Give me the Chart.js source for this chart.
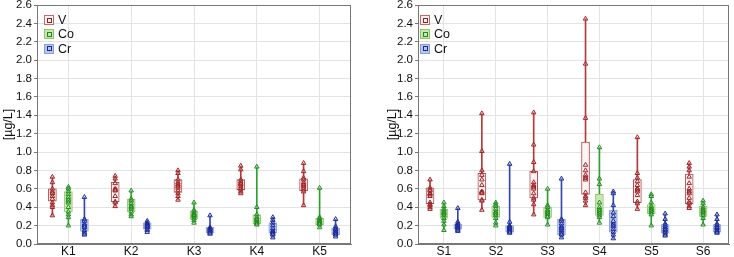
<!DOCTYPE html>
<html><head><meta charset="utf-8">
<script src="https://cdn.jsdelivr.net/npm/chart.js@4.4.0/dist/chart.umd.min.js"></script>
<style>
body{margin:0;background:#fff;width:734px;height:257px;overflow:hidden;position:relative;font-family:"Liberation Sans",Arial,sans-serif}
canvas{position:absolute;top:0}
#c1{left:0}
#c2{left:384px}
.lg{position:absolute;font-size:12.5px;color:#111}
.row{position:relative;height:14.3px;line-height:11px}
.ic{position:absolute;left:0;top:0;width:8px;height:8px;border:1px solid}
.ic i{position:absolute;left:1.5px;top:1.5px;width:3px;height:3px;border:1px solid}
.row span{position:absolute;left:14px;top:0}
</style></head>
<body>
<canvas id="c1" width="360" height="257"></canvas>
<canvas id="c2" width="350" height="257"></canvas>
<div class="lg" style="left:44px;top:15px">
 <div class="row"><b class="ic" style="border-color:#c06a6a;background:#fdf3f3"><i style="border-color:#9e1f22"></i></b><span>V</span></div>
 <div class="row"><b class="ic" style="border-color:#8ec56c;background:#c8e6ae"><i style="border-color:#1f8a1f"></i></b><span>Co</span></div>
 <div class="row"><b class="ic" style="border-color:#8a9fd8;background:#b7c6ec"><i style="border-color:#1a2a96"></i></b><span>Cr</span></div>
</div>
<div class="lg" style="left:420px;top:15px">
 <div class="row"><b class="ic" style="border-color:#c06a6a;background:#fdf3f3"><i style="border-color:#9e1f22"></i></b><span>V</span></div>
 <div class="row"><b class="ic" style="border-color:#8ec56c;background:#c8e6ae"><i style="border-color:#1f8a1f"></i></b><span>Co</span></div>
 <div class="row"><b class="ic" style="border-color:#8a9fd8;background:#b7c6ec"><i style="border-color:#1a2a96"></i></b><span>Cr</span></div>
</div>
<script>
// ---------------- data ----------------
const catsK = ['K1','K2','K3','K4','K5'];
const catsS = ['S1','S2','S3','S4','S5','S6'];
const yTicks = [0,0.2,0.4,0.6,0.8,1.0,1.2,1.4,1.6,1.8,2.0,2.2,2.4,2.6];

// K panel: V
const vPtsK = [
 [0.73,0.67,0.60,0.57,0.55,0.52,0.49,0.45,0.42,0.40,0.31],
 [0.74,0.71,0.66,0.60,0.59,0.58,0.52,0.46,0.45,0.41],
 [0.80,0.77,0.70,0.67,0.65,0.63,0.61,0.58,0.55,0.52,0.48],
 [0.85,0.81,0.70,0.68,0.66,0.65,0.63,0.61,0.59,0.57,0.55],
 [0.88,0.79,0.72,0.70,0.67,0.65,0.63,0.61,0.59,0.57,0.42]];
const vQ1K  = [0.465,0.46,0.56,0.59,0.58];
const vQ3K  = [0.60,0.67,0.70,0.70,0.71];
const vMedK = [0.55,0.59,0.63,0.65,0.64];
// K panel: Co
const coPtsK = [
 [0.62,0.60,0.57,0.54,0.51,0.48,0.45,0.40,0.35,0.32,0.29,0.20],
 [0.58,0.49,0.47,0.44,0.41,0.40,0.38,0.35,0.32,0.30],
 [0.45,0.37,0.35,0.33,0.32,0.31,0.30,0.28,0.26,0.23],
 [0.84,0.40,0.32,0.29,0.27,0.26,0.24,0.23,0.22,0.21],
 [0.61,0.29,0.28,0.26,0.25,0.24,0.23,0.22,0.21,0.18]];
const coQ1K  = [0.35,0.35,0.27,0.22,0.21];
const coQ3K  = [0.57,0.49,0.36,0.32,0.28];
const coMedK = [0.47,0.40,0.31,0.26,0.24];
// K panel: Cr
const crPtsK = [
 [0.51,0.27,0.25,0.22,0.20,0.18,0.15,0.13,0.11,0.10],
 [0.25,0.23,0.22,0.21,0.20,0.19,0.18,0.16,0.15,0.13],
 [0.31,0.18,0.17,0.16,0.15,0.14,0.13,0.12,0.11],
 [0.29,0.26,0.23,0.20,0.17,0.14,0.13,0.12,0.11,0.10,0.07],
 [0.27,0.19,0.17,0.16,0.14,0.13,0.12,0.11,0.10,0.08]];
const crQ1K  = [0.14,0.16,0.12,0.12,0.10];
const crQ3K  = [0.27,0.23,0.18,0.23,0.17];
const crMedK = [0.19,0.19,0.15,0.13,0.13];

// S panel: V
const vPtsS = [
 [0.70,0.61,0.59,0.58,0.55,0.54,0.52,0.45,0.43,0.42,0.40,0.38],
 [1.42,1.01,0.80,0.75,0.70,0.64,0.57,0.56,0.55,0.48,0.47,0.37],
 [1.43,1.08,0.89,0.79,0.67,0.64,0.62,0.60,0.55,0.50,0.48,0.43,0.32],
 [2.45,1.96,1.37,0.86,0.80,0.75,0.72,0.70,0.56,0.52,0.50,0.47,0.42],
 [1.16,0.77,0.72,0.68,0.64,0.60,0.59,0.57,0.53,0.46,0.44,0.38],
 [0.88,0.84,0.80,0.73,0.66,0.60,0.57,0.55,0.50,0.46,0.44,0.41,0.39]];
const vQ1S  = [0.44,0.48,0.50,0.54,0.45,0.44];
const vQ3S  = [0.61,0.77,0.79,1.11,0.70,0.76];
const vMedS = [0.54,0.56,0.62,0.72,0.59,0.57];
// S panel: Co
const coPtsS = [
 [0.45,0.41,0.38,0.36,0.34,0.33,0.31,0.28,0.25,0.21,0.15],
 [0.45,0.43,0.41,0.38,0.35,0.33,0.31,0.28,0.23,0.20],
 [0.60,0.42,0.40,0.37,0.35,0.34,0.32,0.30,0.29,0.21],
 [1.05,0.71,0.65,0.45,0.40,0.37,0.35,0.33,0.31,0.29,0.23],
 [0.54,0.52,0.45,0.41,0.39,0.37,0.36,0.34,0.32,0.20],
 [0.47,0.44,0.40,0.38,0.36,0.35,0.33,0.31,0.28,0.21]];
const coQ1S  = [0.28,0.29,0.29,0.31,0.33,0.30];
const coQ3S  = [0.38,0.41,0.40,0.54,0.43,0.41];
const coMedS = [0.33,0.33,0.34,0.37,0.37,0.35];
// S panel: Cr
const crPtsS = [
 [0.39,0.24,0.22,0.21,0.20,0.19,0.18,0.17,0.16,0.15,0.14],
 [0.87,0.24,0.20,0.19,0.18,0.17,0.16,0.15,0.14,0.13,0.12],
 [0.71,0.27,0.25,0.22,0.19,0.17,0.15,0.13,0.11,0.10,0.07],
 [0.57,0.55,0.42,0.34,0.30,0.25,0.21,0.19,0.16,0.13,0.10,0.06],
 [0.33,0.27,0.22,0.20,0.18,0.16,0.15,0.13,0.12,0.10,0.09],
 [0.32,0.27,0.22,0.20,0.18,0.17,0.15,0.14,0.13,0.12]];
const crQ1S  = [0.16,0.13,0.10,0.13,0.12,0.13];
const crQ3S  = [0.22,0.20,0.27,0.37,0.21,0.21];
const crMedS = [0.19,0.17,0.17,0.21,0.16,0.18];

// ---------------- styles ----------------
const STY = {
 V:  {dark:'#a02326', line:'#b5383a', box:'#fdf4f4', boxBorder:'#b44a4c'},
 Co: {dark:'#1f8c1f', line:'#2fa02f', box:'#cbe7b1', boxBorder:'#93c873'},
 Cr: {dark:'#1b2a98', line:'#3447b0', box:'#b8c7ec', boxBorder:'#8da2d9'}
};

function buildDatasets(cats, off, series){
 const ds = [];
 series.forEach((s, k) => {
  const st = STY[s.name];
  const dx = (k-1)*off;
  ds.push({type:'bar', label:s.name+' range', order:3, grouped:false, barThickness:1,
   backgroundColor:st.line, borderWidth:0,
   data: cats.map((c,i)=>({x:i+1+dx, y:[Math.min(...s.pts[i]), Math.max(...s.pts[i])]}))});
  ds.push({type:'bar', label:s.name+' box', order:2, grouped:false, barThickness:8,
   backgroundColor:st.box, borderColor:st.boxBorder, borderWidth:1, borderSkipped:false,
   data: cats.map((c,i)=>({x:i+1+dx, y:[s.q1[i], s.q3[i]]}))});
  const pts = [];
  cats.forEach((c,i)=> s.pts[i].forEach(v => pts.push({x:i+1+dx, y:v})));
  ds.push({type:'scatter', label:s.name, order:0, data:pts, pointStyle:'triangle',
   pointRadius:2.6, borderWidth:1, borderColor:st.dark, backgroundColor:'rgba(255,255,255,0.25)'});
  ds.push({type:'scatter', label:s.name+' median', order:1,
   data: cats.map((c,i)=>({x:i+1+dx, y:s.med[i]})), pointStyle:'rect',
   pointRadius:2.4, borderWidth:1, borderColor:st.dark, backgroundColor:'rgba(255,255,255,0.4)'});
 });
 return ds;
}

const framePlugin = {
 id:'frame',
 beforeDatasetsDraw(chart){
  const a = chart.chartArea, ctx = chart.ctx;
  ctx.save(); ctx.strokeStyle = '#777'; ctx.lineWidth = 1;
  ctx.strokeRect(Math.round(a.left)+0.5, Math.round(a.top)+0.5, Math.round(a.right-a.left)-1, Math.round(a.bottom-a.top)-1);
  ctx.restore();
 }
};

function makeChart(id, cats, off, series, yW, padRight){
 return new Chart(document.getElementById(id), {
  type:'bar',
  data:{datasets: buildDatasets(cats, off, series)},
  plugins:[framePlugin],
  options:{
   responsive:false, animation:false, devicePixelRatio:1,
   layout:{padding:{top:5, right:padRight, left:0, bottom:0}},
   plugins:{legend:{display:false}, tooltip:{enabled:false}},
   scales:{
    x:{type:'linear', min:0.5, max:cats.length+0.5, offset:false,
     afterBuildTicks: s => { s.ticks = cats.map((c,i)=>({value:i+1})); },
     afterFit: s => { s.height = 13; s.paddingLeft = 0; s.paddingRight = 0; },
     ticks:{autoSkip:false, maxRotation:0, padding:0, color:'#111',
       font:{family:'"Liberation Sans", Arial, sans-serif', size:12},
       callback:(v,i)=>cats[i]},
     grid:{color:'#e3e3e3', drawTicks:false, offset:false},
     border:{color:'#777'}},
    y:{min:0, max:2.6,
     afterBuildTicks: s => { s.ticks = yTicks.map(v=>({value:v})); },
     afterFit: s => { s.width = yW; s.paddingTop = 0; s.paddingBottom = 0; },
     ticks:{padding:2, color:'#111', font:{family:'"Liberation Sans", Arial, sans-serif', size:11.5},
       callback:v=>Number(v).toFixed(1)},
     grid:{color:'#e3e3e3', tickLength:3, tickColor:'#777'},
     border:{color:'#777'},
     title:{display:true, text:'[µg/L]', color:'#111', padding:{top:1,bottom:0},
       font:{family:'"Liberation Sans", Arial, sans-serif', size:12.5}}}
   }
  }
 });
}

makeChart('c1', catsK, 0.255, [
 {name:'V',  pts:vPtsK,  q1:vQ1K,  q3:vQ3K,  med:vMedK},
 {name:'Co', pts:coPtsK, q1:coQ1K, q3:coQ3K, med:coMedK},
 {name:'Cr', pts:crPtsK, q1:crQ1K, q3:crQ3K, med:crMedK}], 37, 9);
makeChart('c2', catsS, 0.268, [
 {name:'V',  pts:vPtsS,  q1:vQ1S,  q3:vQ3S,  med:vMedS},
 {name:'Co', pts:coPtsS, q1:coQ1S, q3:coQ3S, med:coMedS},
 {name:'Cr', pts:crPtsS, q1:crQ1S, q3:crQ3S, med:crMedS}], 34, 3);
</script>
</body></html>
